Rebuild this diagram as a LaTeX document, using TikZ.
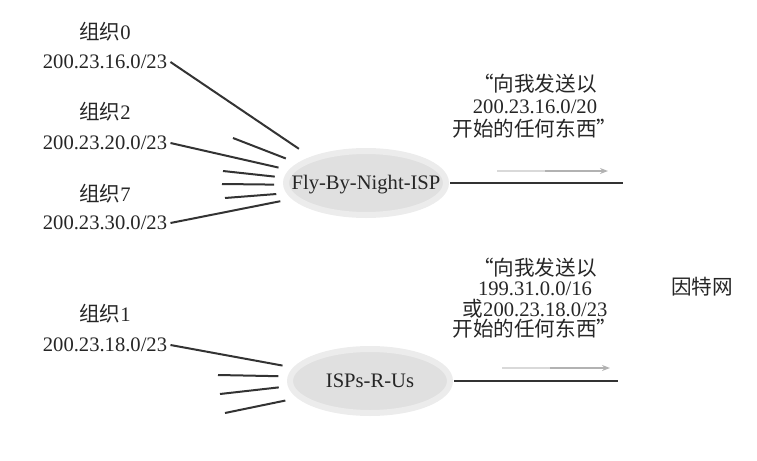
\documentclass[tikz,border=0pt]{standalone}
\usepackage{fontspec}
\setmainfont{Liberation Serif}
\newfontfamily\cjk{Noto Sans CJK SC}
\usetikzlibrary{shapes.geometric,arrows.meta}
\tikzset{
	lbl/.style={inner sep=1.5pt,text height=7.5pt,text depth=1.5pt,text=black!85,font=\fontsize{10.3}{11}\selectfont},
	txt/.style={inner sep=1pt,align=center,text=black!85,font=\fontsize{10.3}{11.2}\selectfont},
	isp/.style={ellipse,fill=gray!24,draw=gray!15,line width=3pt,minimum width=80pt,minimum height=32pt,inner sep=0pt,outer xsep=6pt,outer ysep=9pt},
	link/.style={line width=1pt,black!80},
	flow/.style={line width=0.7pt,gray!60,-{Stealth[length=4pt,width=3pt]}},
}
\begin{document}
\begin{tikzpicture}[x=0.5pt,y=-0.5pt]
	\useasboundingbox (0,0) rectangle (757,461);
	\def\org#1{{\cjk 组织}#1}
	%%%%%%%% organisations
	\node[lbl] (g0) at (105,33) {\org{0}};
	\node[lbl] (a0) at (105,62) {200.23.16.0/23};
	\node[lbl] (g2) at (105,113) {\org{2}};
	\node[lbl] (a2) at (105,143) {200.23.20.0/23};
	\node[lbl] (g7) at (105,195) {\org{7}};
	\node[lbl] (a7) at (105,223) {200.23.30.0/23};
	\node[lbl] (g1) at (105,315) {\org{1}};
	\node[lbl] (a1) at (105,345) {200.23.18.0/23};
	%%%%%%%% ISPs
	\node[isp,label={[lbl]center:Fly-By-Night-ISP}] (fbn) at (366,183) {};
	\node[isp,label={[lbl]center:ISPs-R-Us}] (isp) at (370,381) {};
	%%%%%%%% free ends
	\coordinate (s1) at (233,138);
	\coordinate (s2) at (223,171);
	\coordinate (s3) at (222,184);
	\coordinate (s4) at (225,198);
	\coordinate (t1) at (218,375);
	\coordinate (t2) at (220,394);
	\coordinate (t3) at (225,413);
	\coordinate (e1) at (623,183);
	\coordinate (e2) at (618,381);
	%%%%%%%% links
	\draw[link] (a0.east) -- (fbn.153);
	\draw[link] (s1) -- (fbn.163);
	\draw[link] (a2.east) -- (fbn.170);
	\draw[link] (s2) -- (fbn.176);
	\draw[link] (s3) -- (fbn.181);
	\draw[link] (s4) -- (fbn.187);
	\draw[link] (a7.east) -- (fbn.192);
	\draw[link] (a1.east) -- (isp.170);
	\draw[link] (t1) -- (isp.177);
	\draw[link] (t2) -- (isp.184);
	\draw[link] (t3) -- (isp.193);
	\draw[link,shorten <=-4pt] (fbn.east) -- (e1);
	\draw[link,shorten <=-4pt] (isp.east) -- (e2);
	%%%%%%%% advertisements
	\draw[line width=0.7pt,gray!30] (497,171) -- (545,171);
	\draw[flow] (545,171) -- (608,171);
	\draw[line width=0.7pt,gray!30] (502,368) -- (550,368);
	\draw[flow] (550,368) -- (610,368);
	\node[txt] (m1) at (535,106) {{\cjk “向我发送以}\\200.23.16.0/20\\{\cjk 开始的任何东西”}};
	\node[txt,font=\fontsize{10.3}{10.2}\selectfont] (m2) at (535,298) {{\cjk “向我发送以}\\199.31.0.0/16\\{\cjk 或}200.23.18.0/23\\{\cjk 开始的任何东西”}};
	\node[lbl] (net) at (702,288) {\cjk 因特网};
\end{tikzpicture}
\end{document}
